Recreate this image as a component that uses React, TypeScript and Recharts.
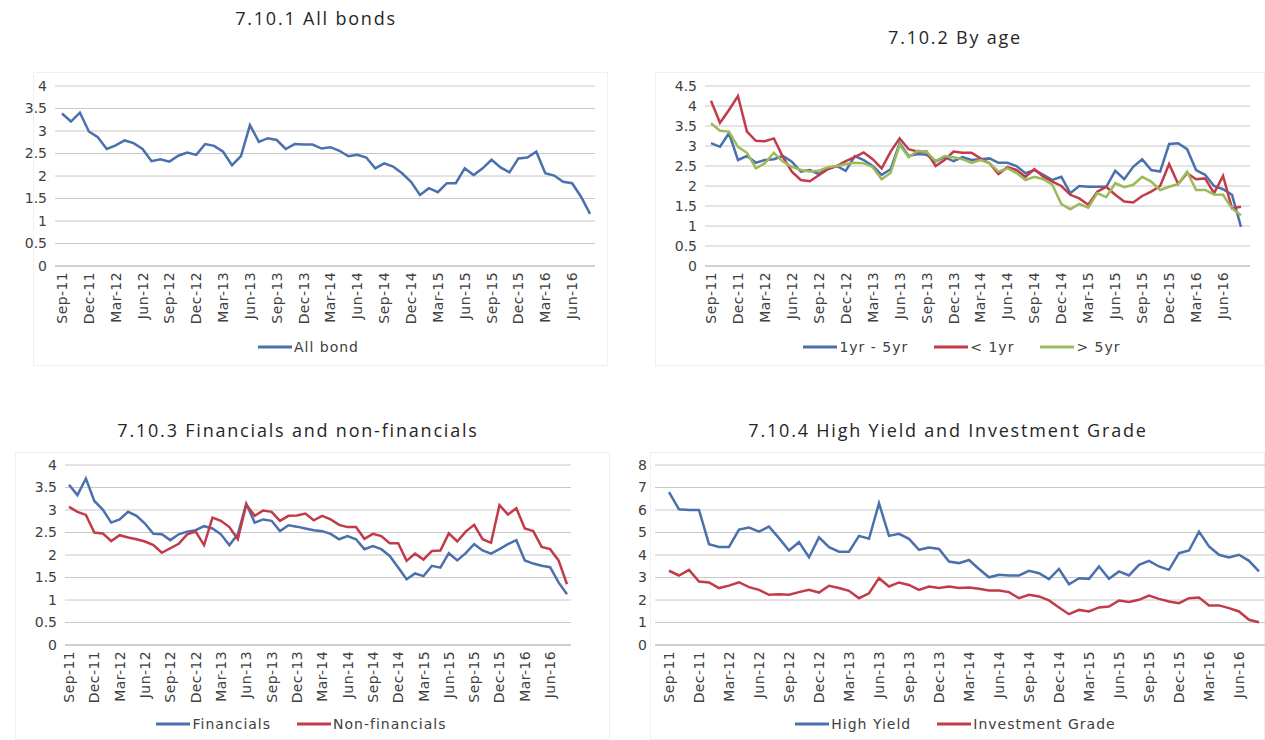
import { LineChart, Line, XAxis, YAxis, CartesianGrid, Legend } from 'recharts';

// Monthly observations, Sep-11 .. Aug-16
const months = [
  'Sep-11', 'Oct-11', 'Nov-11', 'Dec-11', 'Jan-12', 'Feb-12', 'Mar-12', 'Apr-12', 'May-12', 'Jun-12',
  'Jul-12', 'Aug-12', 'Sep-12', 'Oct-12', 'Nov-12', 'Dec-12', 'Jan-13', 'Feb-13', 'Mar-13', 'Apr-13',
  'May-13', 'Jun-13', 'Jul-13', 'Aug-13', 'Sep-13', 'Oct-13', 'Nov-13', 'Dec-13', 'Jan-14', 'Feb-14',
  'Mar-14', 'Apr-14', 'May-14', 'Jun-14', 'Jul-14', 'Aug-14', 'Sep-14', 'Oct-14', 'Nov-14', 'Dec-14',
  'Jan-15', 'Feb-15', 'Mar-15', 'Apr-15', 'May-15', 'Jun-15', 'Jul-15', 'Aug-15', 'Sep-15', 'Oct-15',
  'Nov-15', 'Dec-15', 'Jan-16', 'Feb-16', 'Mar-16', 'Apr-16', 'May-16', 'Jun-16', 'Jul-16', 'Aug-16',
];

// 7.10.1
const allBond = [
  3.39, 3.21, 3.41, 2.99, 2.86, 2.60, 2.68, 2.79, 2.73, 2.60,
  2.33, 2.37, 2.32, 2.45, 2.52, 2.47, 2.71, 2.67, 2.54, 2.24,
  2.44, 3.13, 2.76, 2.84, 2.80, 2.60, 2.71, 2.70, 2.70, 2.61,
  2.64, 2.56, 2.44, 2.47, 2.41, 2.17, 2.28, 2.21, 2.06, 1.87,
  1.58, 1.73, 1.64, 1.84, 1.84, 2.17, 2.02, 2.17, 2.36, 2.19,
  2.08, 2.39, 2.41, 2.54, 2.06, 2.01, 1.87, 1.84, 1.54, 1.16,
];

// 7.10.2
const age1to5 = [
  3.07, 2.98, 3.32, 2.65, 2.75, 2.58, 2.65, 2.67, 2.75, 2.61,
  2.36, 2.40, 2.30, 2.44, 2.50, 2.38, 2.75, 2.65, 2.50, 2.28,
  2.42, 3.07, 2.75, 2.80, 2.78, 2.61, 2.72, 2.62, 2.72, 2.65,
  2.67, 2.69, 2.58, 2.58, 2.50, 2.32, 2.40, 2.28, 2.15, 2.23,
  1.82, 2.00, 1.98, 1.98, 1.98, 2.38, 2.17, 2.48, 2.67, 2.40,
  2.36, 3.05, 3.07, 2.92, 2.40, 2.28, 2.00, 1.92, 1.78, 0.98,
];
const ageUnder1 = [
  4.13, 3.58, 3.90, 4.25, 3.36, 3.13, 3.12, 3.19, 2.73, 2.36,
  2.15, 2.12, 2.27, 2.42, 2.50, 2.62, 2.72, 2.84, 2.67, 2.44,
  2.86, 3.19, 2.92, 2.86, 2.86, 2.50, 2.65, 2.86, 2.83, 2.83,
  2.69, 2.57, 2.30, 2.47, 2.40, 2.23, 2.42, 2.23, 2.11, 2.00,
  1.78, 1.69, 1.53, 1.86, 1.98, 1.78, 1.61, 1.59, 1.75, 1.86,
  2.00, 2.55, 2.05, 2.32, 2.17, 2.19, 1.82, 2.25, 1.44, 1.48,
];
const ageOver5 = [
  3.57, 3.38, 3.36, 2.98, 2.83, 2.44, 2.57, 2.83, 2.61, 2.48,
  2.40, 2.36, 2.38, 2.47, 2.50, 2.55, 2.58, 2.57, 2.47, 2.17,
  2.33, 3.03, 2.72, 2.88, 2.86, 2.62, 2.75, 2.72, 2.67, 2.58,
  2.65, 2.57, 2.36, 2.44, 2.33, 2.15, 2.23, 2.17, 2.03, 1.55,
  1.42, 1.55, 1.46, 1.82, 1.72, 2.07, 1.97, 2.03, 2.23, 2.11,
  1.90, 1.98, 2.05, 2.36, 1.90, 1.90, 1.79, 1.78, 1.44, 1.27,
];

// 7.10.3
const financials = [
  3.56, 3.33, 3.70, 3.20, 3.01, 2.72, 2.79, 2.96, 2.87, 2.70,
  2.47, 2.46, 2.33, 2.46, 2.52, 2.55, 2.64, 2.59, 2.46, 2.22,
  2.46, 3.14, 2.72, 2.79, 2.76, 2.53, 2.66, 2.63, 2.59, 2.55,
  2.53, 2.47, 2.35, 2.42, 2.35, 2.13, 2.20, 2.13, 1.98, 1.72,
  1.46, 1.59, 1.53, 1.76, 1.72, 2.04, 1.88, 2.04, 2.24, 2.10,
  2.03, 2.13, 2.24, 2.33, 1.88, 1.81, 1.76, 1.73, 1.39, 1.13,
];
const nonFinancials = [
  3.07, 2.96, 2.89, 2.50, 2.48, 2.31, 2.44, 2.39, 2.35, 2.30,
  2.22, 2.05, 2.15, 2.25, 2.46, 2.52, 2.22, 2.83, 2.76, 2.62,
  2.35, 3.12, 2.87, 2.99, 2.96, 2.76, 2.87, 2.88, 2.92, 2.77,
  2.87, 2.79, 2.67, 2.62, 2.62, 2.36, 2.47, 2.42, 2.26, 2.26,
  1.87, 2.03, 1.90, 2.09, 2.10, 2.48, 2.30, 2.52, 2.67, 2.35,
  2.27, 3.11, 2.90, 3.04, 2.59, 2.53, 2.18, 2.13, 1.88, 1.35,
];

// 7.10.4
const highYield = [
  6.79, 6.03, 6.00, 6.00, 4.48, 4.36, 4.36, 5.13, 5.22, 5.04,
  5.26, 4.75, 4.20, 4.57, 3.90, 4.78, 4.35, 4.15, 4.15, 4.85,
  4.72, 6.30, 4.85, 4.94, 4.72, 4.23, 4.33, 4.27, 3.71, 3.64,
  3.78, 3.38, 3.01, 3.12, 3.09, 3.09, 3.30, 3.19, 2.93, 3.38,
  2.70, 2.97, 2.94, 3.49, 2.94, 3.27, 3.09, 3.56, 3.74, 3.49,
  3.34, 4.08, 4.20, 5.04, 4.38, 4.01, 3.89, 4.01, 3.74, 3.27,
];
const investmentGrade = [
  3.30, 3.09, 3.34, 2.82, 2.78, 2.53, 2.64, 2.79, 2.57, 2.45,
  2.23, 2.26, 2.23, 2.35, 2.45, 2.33, 2.63, 2.53, 2.41, 2.08,
  2.30, 2.97, 2.60, 2.78, 2.67, 2.45, 2.60, 2.53, 2.60, 2.53,
  2.56, 2.50, 2.42, 2.42, 2.35, 2.08, 2.23, 2.16, 1.98, 1.67,
  1.37, 1.56, 1.49, 1.67, 1.71, 1.98, 1.91, 2.01, 2.20, 2.05,
  1.93, 1.86, 2.08, 2.11, 1.76, 1.76, 1.64, 1.49, 1.12, 1.01,
];

const ticks4 = [0, 0.5, 1, 1.5, 2, 2.5, 3, 3.5, 4];
const ticks45 = [0, 0.5, 1, 1.5, 2, 2.5, 3, 3.5, 4, 4.5];
const ticks8 = [0, 1, 2, 3, 4, 5, 6, 7, 8];

const BLUE = '#4a70ad';
const RED = '#c23b48';
const GREEN = '#9bbb59';
const FONT = '"DejaVu Sans", Verdana, sans-serif';
const TITLE_FONT = '"Open Sans", "DejaVu Sans", sans-serif';

const rows = months.map((month, i) => ({
  month,
  allBond: allBond[i],
  age1to5: age1to5[i],
  ageUnder1: ageUnder1[i],
  ageOver5: ageOver5[i],
  financials: financials[i],
  nonFinancials: nonFinancials[i],
  highYield: highYield[i],
  investmentGrade: investmentGrade[i],
}));

const RotatedTick = ({ x, y, payload }: any) => (
  <g transform={`translate(${x},${y})`}>
    <text
      x={0}
      y={0}
      dy={5}
      transform="rotate(-90)"
      textAnchor="end"
      fontSize={14}
      letterSpacing={0.4}
      fill="#404040"
      fontFamily={FONT}
    >
      {payload.value}
    </text>
  </g>
);

const LegendContent = ({ payload, shift }: any) => (
  <div
    style={{
      display: 'flex',
      justifyContent: 'center',
      alignItems: 'center',
      gap: 26,
      height: 20,
      transform: `translateX(${shift}px)`,
      fontFamily: FONT,
      fontSize: 14,
      letterSpacing: 1,
      color: '#404040',
    }}
  >
    {payload?.map((entry: any, index: number) => (
      <div key={index} style={{ display: 'flex', alignItems: 'center' }}>
        <svg width={34} height={6}>
          <line x1={0} y1={3} x2={34} y2={3} stroke={entry.color} strokeWidth={3} />
        </svg>
        <span style={{ marginLeft: 2, whiteSpace: 'nowrap' }}>{entry.value}</span>
      </div>
    ))}
  </div>
);

interface SeriesDef {
  key: string;
  name: string;
  color: string;
}

interface PanelProps {
  left: number;
  top: number;
  width: number;
  height: number;
  margin: { top: number; right: number; bottom: number; left: number };
  yWidth: number;
  xHeight: number;
  domain: [number, number];
  ticks: number[];
  padding: { left: number; right: number };
  legendShift: number;
  series: SeriesDef[];
}

function Panel({ left, top, width, height, margin, yWidth, xHeight, domain, ticks, padding, legendShift, series }: PanelProps) {
  return (
    <div style={{ position: 'absolute', left, top }}>
      <LineChart width={width} height={height} data={rows} margin={margin}>
        <CartesianGrid vertical={false} stroke="#c8c8c8" />
        <XAxis
          dataKey="month"
          interval={2}
          tick={<RotatedTick />}
          tickLine={false}
          tickMargin={0}
          axisLine={{ stroke: '#bdbdbd' }}
          height={xHeight}
          padding={padding}
        />
        <YAxis
          domain={domain}
          ticks={ticks}
          interval={0}
          width={yWidth}
          axisLine={false}
          tickLine={false}
          tick={{ fontSize: 14, fill: '#404040', fontFamily: FONT }}
        />
        <Legend verticalAlign="bottom" content={<LegendContent shift={legendShift} />} />
        {series.map(s => (
          <Line
            key={s.key}
            dataKey={s.key}
            name={s.name}
            stroke={s.color}
            strokeWidth={2.5}
            dot={false}
            activeDot={false}
            isAnimationActive={false}
          />
        ))}
      </LineChart>
    </div>
  );
}

const Title = ({ text, cx, cy }: { text: string; cx: number; cy: number }) => (
  <div
    style={{
      position: 'absolute',
      left: cx - 300,
      top: cy - 13,
      width: 600,
      height: 26,
      lineHeight: '26px',
      textAlign: 'center',
      fontFamily: TITLE_FONT,
      fontSize: 18,
      letterSpacing: 1.8,
      color: '#262626',
      whiteSpace: 'nowrap',
    }}
  >
    {text}
  </div>
);

const Frame = ({ x1, y1, x2, y2 }: { x1: number; y1: number; x2: number; y2: number }) => (
  <div
    style={{
      position: 'absolute',
      left: x1,
      top: y1,
      width: x2 - x1,
      height: y2 - y1,
      border: '1px solid #f0f0f0',
      boxSizing: 'border-box',
    }}
  />
);

export default function App() {
  return (
    <div style={{ position: 'absolute', left: 0, top: 0, width: 1265, height: 740, background: '#ffffff', overflow: 'hidden' }}>
      <Frame x1={33} y1={72} x2={608} y2={366} />
      <Frame x1={655} y1={72} x2={1265} y2={366} />
      <Frame x1={15} y1={452} x2={610} y2={740} />
      <Frame x1={650} y1={452} x2={1265} y2={740} />

      <Title text="7.10.1 All bonds" cx={316} cy={18} />
      <Title text="7.10.2 By age" cx={955} cy={37} />
      <Title text="7.10.3 Financials and non-financials" cx={298} cy={430} />
      <Title text="7.10.4 High Yield and Investment Grade" cx={948} cy={430} />

      <Panel
        left={0}
        top={70}
        width={610}
        height={300}
        margin={{ top: 16, right: 15, bottom: 13, left: 0 }}
        yWidth={55}
        xHeight={71}
        domain={[0, 4]}
        ticks={ticks4}
        padding={{ left: 7, right: 5 }}
        legendShift={11}
        series={[{ key: 'allBond', name: 'All bond', color: BLUE }]}
      />
      <Panel
        left={640}
        top={70}
        width={625}
        height={300}
        margin={{ top: 16, right: 15, bottom: 13, left: 0 }}
        yWidth={65}
        xHeight={71}
        domain={[0, 4.5]}
        ticks={ticks45}
        padding={{ left: 6, right: 9 }}
        legendShift={17}
        series={[
          { key: 'age1to5', name: '1yr - 5yr', color: BLUE },
          { key: 'ageUnder1', name: '< 1yr', color: RED },
          { key: 'ageOver5', name: '> 5yr', color: GREEN },
        ]}
      />
      <Panel
        left={0}
        top={450}
        width={610}
        height={290}
        margin={{ top: 15, right: 39, bottom: 6, left: 0 }}
        yWidth={65}
        xHeight={69}
        domain={[0, 4]}
        ticks={ticks4}
        padding={{ left: 4, right: 4 }}
        legendShift={16}
        series={[
          { key: 'financials', name: 'Financials', color: BLUE },
          { key: 'nonFinancials', name: 'Non-financials', color: RED },
        ]}
      />
      <Panel
        left={628}
        top={450}
        width={637}
        height={290}
        margin={{ top: 15, right: 0, bottom: 6, left: 0 }}
        yWidth={27}
        xHeight={69}
        domain={[0, 8]}
        ticks={ticks8}
        padding={{ left: 14, right: 6 }}
        legendShift={9}
        series={[
          { key: 'highYield', name: 'High Yield', color: BLUE },
          { key: 'investmentGrade', name: 'Investment Grade', color: RED },
        ]}
      />
    </div>
  );
}
